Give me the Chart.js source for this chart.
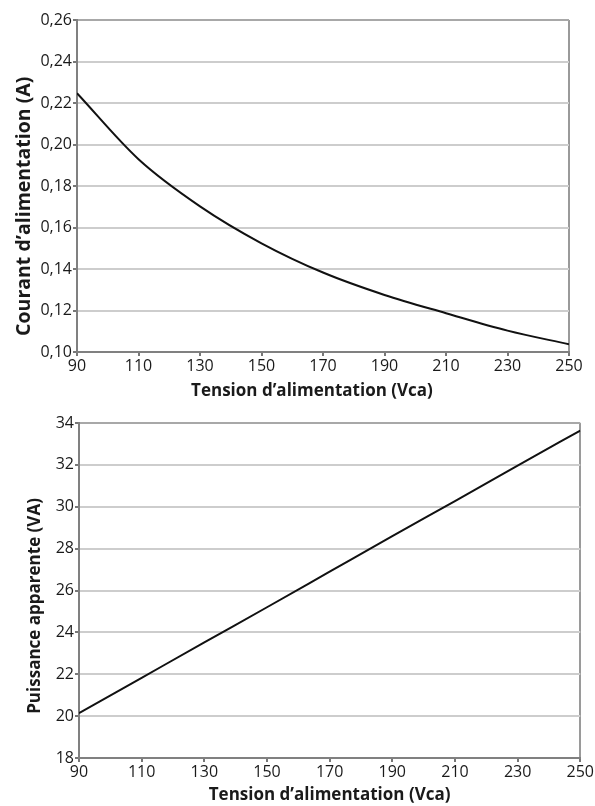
<!DOCTYPE html>
<html>
<head>
<meta charset="utf-8">
<script src="https://cdn.jsdelivr.net/npm/chart.js@4/dist/chart.umd.min.js"></script>
<style>
  body { margin: 0; background: #fff; }
  #wrap { position: relative; width: 595px; height: 806px; }
  canvas { position: absolute; left: 0; }
  #c1 { top: 0; }
  #c2 { top: 405px; }
</style>
</head>
<body>
<div id="wrap">
  <canvas id="c1" width="595" height="405"></canvas>
  <canvas id="c2" width="595" height="401"></canvas>
</div>
<script>
// values
var voltage = [90, 110, 130, 150, 170, 190, 210, 230, 250];
var current = [0.2247, 0.1929, 0.1702, 0.1524, 0.1383, 0.1275, 0.1187, 0.1103, 0.1037];
var power = [20.14, 21.83, 23.52, 25.2, 26.9, 28.6, 30.27, 31.96, 33.64];

var xTitle = 'Tension d\u2019alimentation (Vca)';
var yTitle1 = 'Courant d\u2019alimentation (A)';
var yTitle2 = 'Puissance apparente (VA)';

Chart.defaults.font.family = 'Open Sans';
Chart.defaults.color = '#1a1a1a';

// trailing spaces nudge a centred title off the middle of its axis
function pad(txt, n) { return txt + '\u00a0'.repeat(n); }

function pts(ys) {
  return voltage.map(function (v, i) { return { x: v, y: ys[i] }; });
}

function makeChart(id, ys, opt) {
  return new Chart(document.getElementById(id), {
    type: 'line',
    data: {
      datasets: [{
        data: pts(ys),
        borderColor: '#111',
        borderWidth: 2,
        pointRadius: 0,
        cubicInterpolationMode: 'monotone',
        fill: false
      }]
    },
    options: {
      responsive: false,
      animation: false,
      layout: { padding: opt.padding },
      plugins: { legend: { display: false }, tooltip: { enabled: false } },
      scales: {
        x: {
          type: 'linear',
          min: 90, max: 250,
          afterFit: function (s) { s.height = opt.xHeight; },
          ticks: { stepSize: 20, padding: 1, maxRotation: 0, font: { size: 16 } },
          grid: {
            color: function (c) { return c.tick && c.tick.value === 250 ? '#9a9a9a' : 'rgba(0,0,0,0)'; },
            lineWidth: 2,
            tickColor: '#777',
            tickLength: 4
          },
          border: { color: '#808080', width: 2 },
          title: {
            display: true, text: opt.xTitle,
            font: { size: 17, weight: 'bold' },
            padding: { top: 0, bottom: opt.xTitlePad }
          }
        },
        y: {
          min: opt.yMin, max: opt.yMax,
          afterFit: function (s) { s.width = opt.yWidth; },
          ticks: {
            stepSize: opt.yStep, padding: 1, font: { size: 16 },
            callback: opt.fmt
          },
          grid: {
            color: function (c) { return c.tick && c.tick.value === opt.yMax ? '#a8a8a8' : '#cdcdcd'; },
            lineWidth: 2,
            tickColor: '#777',
            tickLength: 4
          },
          border: { color: '#808080', width: 2 },
          title: {
            display: true, text: opt.yTitle,
            font: { size: opt.yTitleSize, weight: 'bold' },
            padding: { top: opt.yTitlePad, bottom: 0 }
          }
        }
      }
    }
  });
}

makeChart('c1', current, {
  padding: { top: 20, right: 26, left: 0, bottom: 0 },
  xHeight: 53, yWidth: 77,
  xTitle: pad(xTitle, 5), xTitlePad: 3.8,
  yTitle: pad(yTitle1, 8), yTitleSize: 19.5, yTitlePad: 12.3,
  yMin: 0.10, yMax: 0.26, yStep: 0.02,
  fmt: function (v) { return v.toFixed(2).replace('.', ','); }
});

makeChart('c2', power, {
  padding: { top: 18, right: 14, left: 0, bottom: 0 },
  xHeight: 48, yWidth: 79,
  xTitle: xTitle, xTitlePad: 0.8,
  yTitle: pad(yTitle2, 7), yTitleSize: 17, yTitlePad: 24.8,
  yMin: 18, yMax: 34, yStep: 2,
  fmt: function (v) { return String(Math.round(v)); }
});
</script>
</body>
</html>
